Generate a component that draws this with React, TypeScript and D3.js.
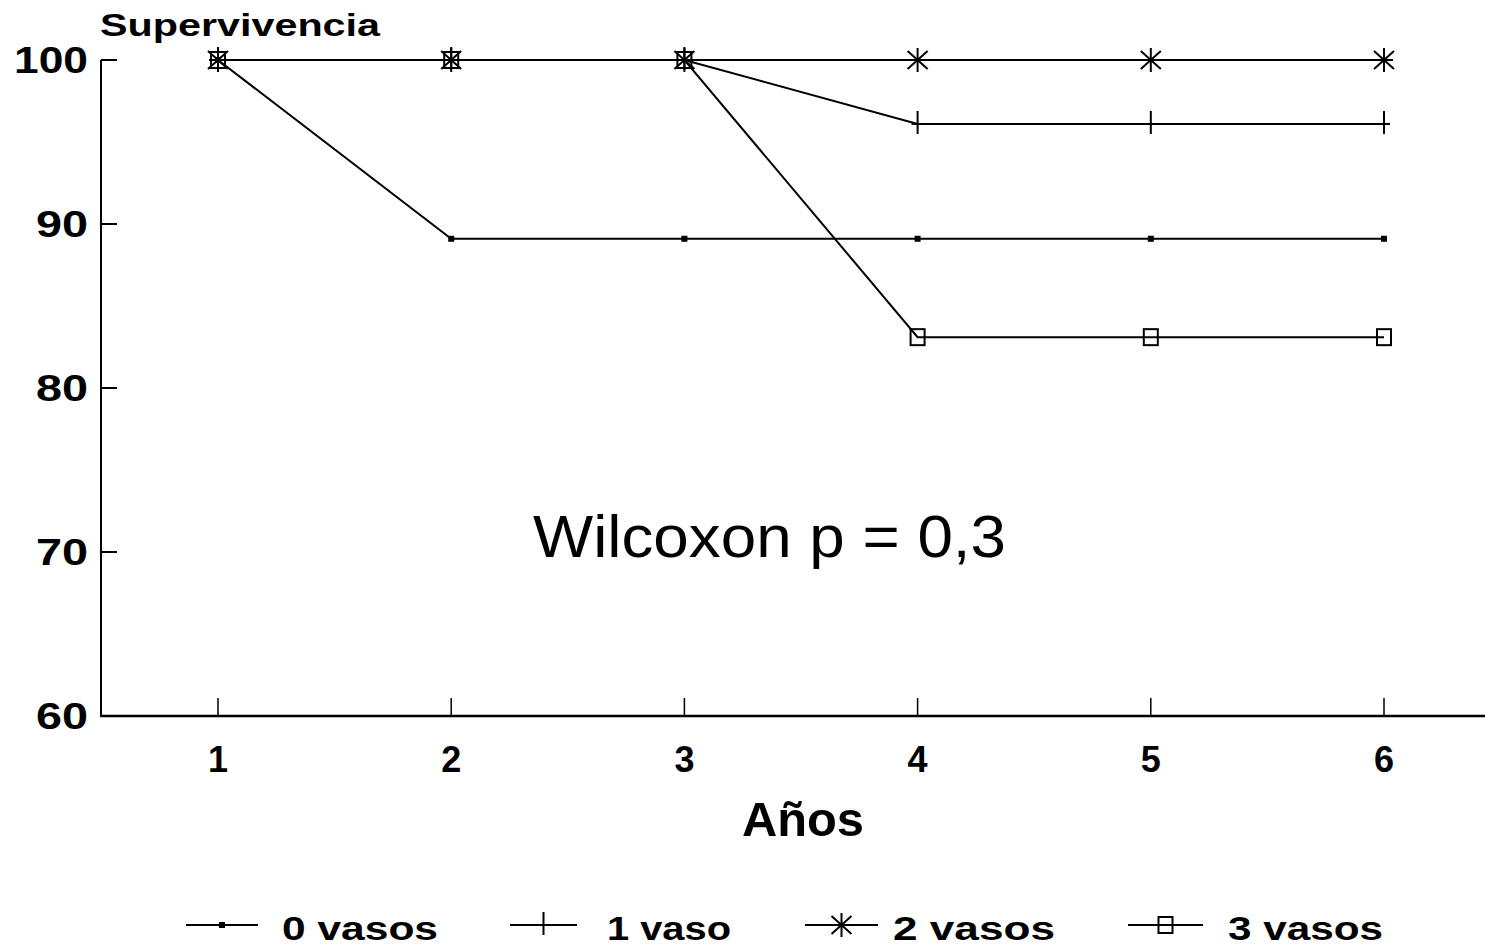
import React from "react";
import * as d3 from "d3";

const years = [1, 2, 3, 4, 5, 6];
const yTicks = [60, 70, 80, 90, 100];
const seriesNames = ["0 vasos", "1 vaso", "2 vasos", "3 vasos"];
const vasos0 = [100, 89.1, 89.1, 89.1, 89.1, 89.1];
const vasos1 = [100, 100, 100, 96.1, 96.1, 96.1];
const vasos2 = [100, 100, 100, 100, 100, 100];
const vasos3 = [100, 100, 100, 83.1, 83.1, 83.1];
const markers = ["dot", "plus", "star", "square"];

const W = 1485;
const H = 949;
const FONT = "'Liberation Sans', Arial, Helvetica, sans-serif";

function Marker({ type, x, y }: { type: string; x: number; y: number }) {
  const sw = 2;
  if (type === "dot") {
    return <rect x={x - 3} y={y - 3} width={6} height={6} fill="#000" />;
  }
  if (type === "plus") {
    return (
      <g stroke="#000" strokeWidth={sw}>
        <line x1={x} y1={y - 13} x2={x} y2={y + 10} />
        <line x1={x - 6} y1={y} x2={x + 6} y2={y} />
      </g>
    );
  }
  if (type === "star") {
    return (
      <g stroke="#000" strokeWidth={sw}>
        <line x1={x} y1={y - 12} x2={x} y2={y + 12} />
        <line x1={x - 10} y1={y - 9} x2={x + 10} y2={y + 9} />
        <line x1={x - 10} y1={y + 9} x2={x + 10} y2={y - 9} />
        <line x1={x - 9} y1={y} x2={x + 9} y2={y} />
      </g>
    );
  }
  return (
    <rect x={x - 7} y={y - 8} width={14} height={16} fill="none" stroke="#000" strokeWidth={sw} />
  );
}

export default function App() {
  const x = d3.scaleLinear().domain([1, 6]).range([218, 1384]);
  const y = d3.scaleLinear().domain([60, 100]).range([716, 60]);
  const all = [vasos0, vasos1, vasos2, vasos3];
  const line = d3
    .line<number>()
    .x((_, i) => x(years[i]))
    .y((d) => y(d));

  const legendX = [186, 510, 805, 1128];
  const legendW = [72, 67, 73, 75];
  const legendTextX = [282, 607, 893, 1228];
  const legendTextW = [156, 124, 162, 155];
  const legendY = 925;

  return (
    <svg
      width={W}
      height={H}
      style={{ position: "absolute", left: 0, top: 0, background: "#fff" }}
      fontFamily={FONT}
    >
      <rect width={W} height={H} fill="#fff" />
      {/* axes */}
      <line x1={101} y1={y(100)} x2={101} y2={y(60) + 1} stroke="#000" strokeWidth={2} />
      <line x1={100} y1={y(60)} x2={W} y2={y(60)} stroke="#000" strokeWidth={2.5} />
      {yTicks.map((t) => (
        <g key={t}>
          {t !== 60 && <line x1={101} y1={y(t)} x2={117} y2={y(t)} stroke="#000" strokeWidth={2} />}
          <text
            x={88}
            y={y(t) + 13}
            textAnchor="end"
            fontSize={36}
            fontWeight="bold"
            textLength={t === 100 ? 74 : 52}
            lengthAdjust="spacingAndGlyphs"
          >
            {t}
          </text>
        </g>
      ))}
      {years.map((t) => (
        <g key={t}>
          <line x1={x(t)} y1={y(60)} x2={x(t)} y2={y(60) - 18} stroke="#000" strokeWidth={1.5} />
          <text x={x(t)} y={772} textAnchor="middle" fontSize={36} fontWeight="bold">
            {t}
          </text>
        </g>
      ))}
      <text
        x={100}
        y={36}
        fontSize={31}
        fontWeight="bold"
        textLength={280}
        lengthAdjust="spacingAndGlyphs"
      >
        Supervivencia
      </text>
      <text
        x={742}
        y={836}
        fontSize={48}
        fontWeight="bold"
        textLength={122}
        lengthAdjust="spacingAndGlyphs"
      >
        Años
      </text>
      <text x={533} y={557} fontSize={60} textLength={473} lengthAdjust="spacingAndGlyphs">
        Wilcoxon p = 0,3
      </text>
      {/* series */}
      {all.map((s, si) => (
        <g key={si}>
          <path d={line(s) || ""} fill="none" stroke="#000" strokeWidth={2} />
          {s.map((v, i) => (
            <Marker key={i} type={markers[si]} x={x(years[i])} y={y(v)} />
          ))}
        </g>
      ))}
      {/* legend */}
      {seriesNames.map((n, i) => (
        <g key={n}>
          <line
            x1={legendX[i]}
            y1={legendY}
            x2={legendX[i] + legendW[i]}
            y2={legendY}
            stroke="#000"
            strokeWidth={2}
          />
          <Marker type={markers[i]} x={legendX[i] + legendW[i] / 2} y={legendY} />
          <text
            x={legendTextX[i]}
            y={940}
            fontSize={33}
            fontWeight="bold"
            textLength={legendTextW[i]}
            lengthAdjust="spacingAndGlyphs"
          >
            {n}
          </text>
        </g>
      ))}
    </svg>
  );
}
